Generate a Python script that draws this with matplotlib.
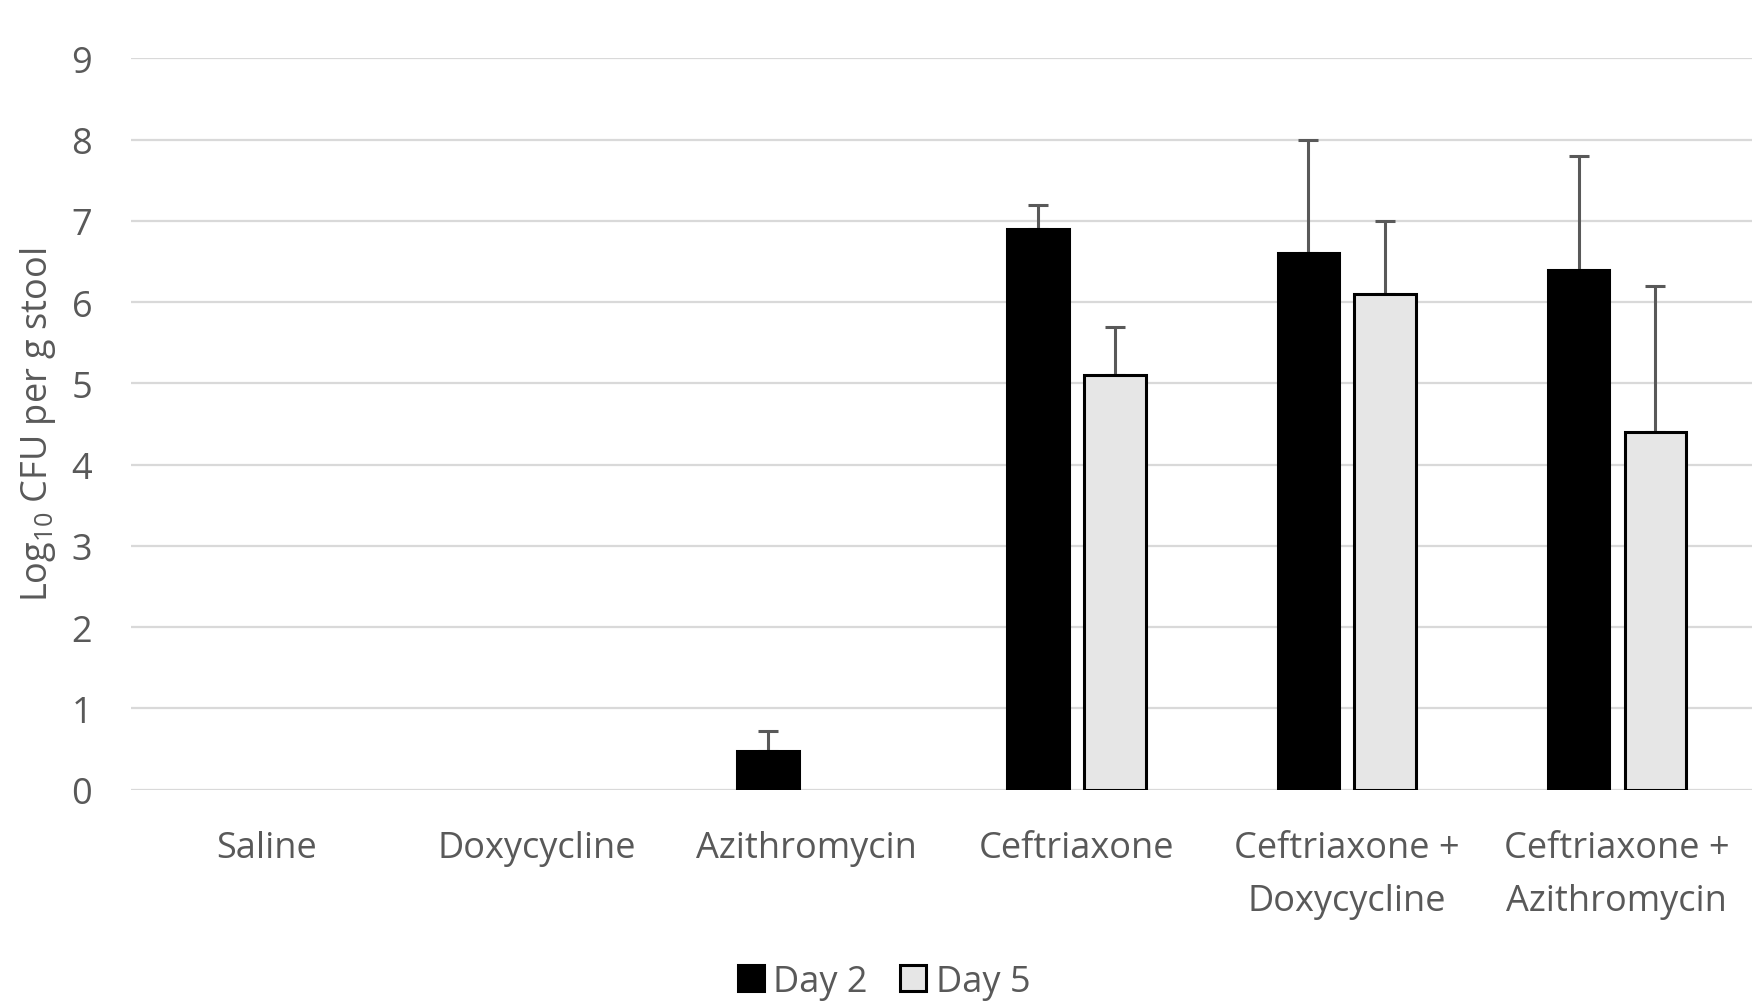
import numpy as np
from matplotlib import pyplot as plt
from matplotlib.patches import Patch

plt.rcParams['font.family'] = ['Open Sans', 'DejaVu Sans']
plt.rcParams['mathtext.fontset'] = 'custom'
plt.rcParams['mathtext.rm'] = 'Open Sans'
plt.rcParams['mathtext.it'] = 'Open Sans'

# data
categories = ['Saline', 'Doxycycline', 'Azithromycin', 'Ceftriaxone',
              'Ceftriaxone +\nDoxycycline', 'Ceftriaxone +\nAzithromycin']
day2 = [0, 0, 0.48, 6.9, 6.6, 6.4]
day2_err = [0, 0, 0.24, 0.3, 1.4, 1.4]
day5 = [0, 0, 0, 5.1, 6.1, 4.4]
day5_err = [0, 0, 0, 0.6, 0.9, 1.8]
yticks = list(range(0, 10))

grey = '#595959'
fs = 26
fig = plt.figure(figsize=(17.61, 10.03), dpi=100)
ax = fig.add_axes([0.0744, 0.2118, 0.9205, 0.7289])

x = np.arange(len(categories))
w = 0.228
off = 0.142

def draw(xs, vals, errs, color):
    bars = ax.bar(xs, vals, width=w, color=color, edgecolor='black',
                  linewidth=2.2, zorder=3)
    # zero-height bars are not shown in the original
    for b, v in zip(bars, vals):
        if v == 0:
            b.set_visible(False)
    for xi, v, e in zip(xs, vals, errs):
        if e > 0:
            ax.errorbar(xi, v, yerr=[[0], [e]], fmt='none', ecolor=grey,
                        elinewidth=2.2, capsize=7, capthick=2.2, zorder=2)

draw(x - off, day2, day2_err, 'black')
draw(x + off, day5, day5_err, '#e6e6e6')

ax.set_xlim(-0.5, 5.5)
ax.set_ylim(0, 9)
ax.set_yticks(yticks)
ax.set_yticklabels([str(t) for t in yticks], fontsize=fs, color=grey)
ax.set_xticks(x)
ax.set_xticklabels(categories, fontsize=fs, color=grey, linespacing=1.62)
ax.tick_params(axis='both', length=0)
ax.tick_params(axis='x', pad=29)
ax.tick_params(axis='y', pad=28)
for s in ax.spines.values():
    s.set_visible(False)
ax.yaxis.grid(True, color='#d9d9d9', linewidth=1.6, zorder=0)
ax.set_axisbelow(True)
ax.set_ylabel('Log$_{10}$ CFU per g stool', fontsize=fs, color=grey)
ax.yaxis.set_label_coords(-0.045, 0.5)

handles = [Patch(facecolor='black', edgecolor='black', linewidth=2.2),
           Patch(facecolor='#e6e6e6', edgecolor='black', linewidth=2.2)]
fig.legend(handles, ['Day 2', 'Day 5'], loc='lower center',
           bbox_to_anchor=(0.502, -0.03), ncol=2, frameon=False,
           fontsize=fs, labelcolor=grey, handlelength=0.72, handleheight=0.72,
           handletextpad=0.26, columnspacing=0.9)

fig.savefig('out.png', dpi=100)
